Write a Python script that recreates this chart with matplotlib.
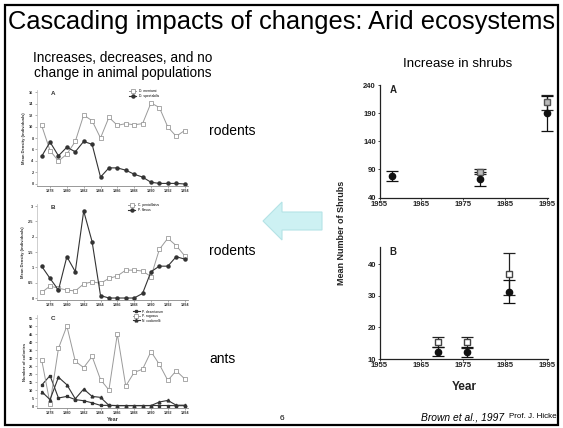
import matplotlib
matplotlib.use("Agg")
import matplotlib.pyplot as plt
from matplotlib.patches import Polygon, Rectangle

plt.rcParams['font.family'] = ['Liberation Sans', 'DejaVu Sans']

W, H = 563, 428

# Rodent censuses, 1977-1994
years = list(range(1977, 1995))
merriami = [10.2, 5.8, 4.0, 5.2, 7.4, 12.0, 11.0, 8.0, 11.6, 10.2, 10.5, 10.3, 10.5, 14.1, 13.3, 9.9, 8.3, 9.3]
spectabilis = [4.8, 7.3, 4.9, 6.4, 5.6, 7.4, 6.9, 1.2, 2.8, 2.8, 2.4, 1.7, 1.2, 0.3, 0.1, 0.1, 0.1, 0.0]
penicillatus = [0.18, 0.39, 0.32, 0.26, 0.23, 0.46, 0.53, 0.48, 0.64, 0.72, 0.91, 0.91, 0.88, 0.70, 1.59, 1.95, 1.71, 1.38]
flavus = [1.04, 0.64, 0.26, 1.35, 0.86, 2.84, 1.84, 0.08, 0.0, 0.0, 0.0, 0.0, 0.15, 0.86, 1.04, 1.04, 1.35, 1.27]

# Ant colonies
ants_open = [29, 1.5, 36, 50, 28, 24, 31, 16.5, 10, 45, 12.5, 21, 23, 34, 26, 16, 22, 17]
ants_square = [13, 19, 5, 6, 4, 3.3, 2, 0.4, 0.4, 0.2, 0.2, 0.2, 0.2, 0.3, 0.3, 0.3, 0.2, 0.2]
ants_tri = [9, 4, 18, 13.3, 4.5, 10.6, 6, 5.4, 0.4, 0.3, 0.3, 0.3, 0.3, 0.3, 2.5, 3.5, 0.5, 0.5]

# Shrub counts (mean +/- error)
shrubA_years = [1958, 1979, 1995]
shrubA_mean = [78, 73, 190]
shrubA_err = [9, 13, 31]
shrubA_open_years = [1979, 1995]
shrubA_open_mean = [86, 209]
shrubA_open_err = [4, 14]

shrubB_years = [1969, 1976, 1986]
shrubB_mean = [12.3, 12.3, 31.3]
shrubB_err = [1.5, 1.6, 3.7]
shrubB_open_mean = [15.3, 15.3, 36.8]
shrubB_open_err = [1.5, 1.8, 6.6]

left_xticks = list(range(1978, 1995, 2))
right_xticks = [1955, 1965, 1975, 1985, 1995]


def box(l, t, r, b):
    return [l / W, 1 - b / H, (r - l) / W, (b - t) / H]


def fx(x):
    return x / W


def fy(y):
    return 1 - y / H


fig = plt.figure(figsize=(W / 100, H / 100), dpi=100)

# slide frame
fig.patches.append(Rectangle((fx(5), fy(425)), fx(553), (420) / H, transform=fig.transFigure,
                             fill=False, edgecolor='black', linewidth=1.6))

fig.text(fx(8), fy(22), "Cascading impacts of changes: Arid ecosystems", fontsize=18.4,
         va='center', ha='left')
fig.text(fx(123), fy(65.5), "Increases, decreases, and no\nchange in animal populations",
         fontsize=9.8, ha='center', va='center', linespacing=1.1)
fig.text(fx(458), fy(64), "Increase in shrubs", fontsize=9.6, ha='center', va='center')

for y, s in [(131, "rodents"), (251, "rodents"), (359, "ants")]:
    fig.text(fx(209), fy(y), s, fontsize=10, ha='left', va='center')

fig.text(fx(282), fy(418), "6", fontsize=6, ha='center', va='center')
fig.text(fx(504), fy(418), "Brown et al., 1997", fontsize=7.4, style='italic', ha='right', va='center')
fig.text(fx(509), fy(417), "Prof. J. Hicke", fontsize=5.8, ha='left', va='center')

# arrow pointing from shrubs to animals
arrow = Polygon([(fx(263), fy(221)), (fx(282), fy(202)), (fx(282), fy(212)), (fx(322), fy(212)),
                 (fx(322), fy(230)), (fx(282), fy(230)), (fx(282), fy(240))],
                closed=True, transform=fig.transFigure, facecolor='#cdf1f3', edgecolor='#b5e3e6',
                linewidth=0.8)
fig.patches.append(arrow)

scan_c = '#333333'
gray_c = '#9a9a9a'


def left_panel(rect, ylim, yticks, ylabels, letter):
    ax = fig.add_axes(rect)
    ax.set_xlim(1976.45, 1994.4)
    ax.set_ylim(*ylim)
    for s in ['top', 'right']:
        ax.spines[s].set_visible(False)
    ax.spines['left'].set_color('#bbbbbb')
    ax.spines['bottom'].set_color('#888888')
    ax.spines['left'].set_linewidth(0.5)
    ax.spines['bottom'].set_linewidth(0.6)
    ax.set_xticks(left_xticks)
    ax.set_xticklabels([str(t) for t in left_xticks], fontsize=2.8, fontweight='bold', color=scan_c)
    ax.set_yticks(yticks)
    ax.set_yticklabels(ylabels, fontsize=2.8, fontweight='bold', color=scan_c)
    ax.tick_params(length=1.5, width=0.4, pad=1, colors='#777777', labelcolor=scan_c)
    ax.patch.set_alpha(0)
    ax.text(0.09, 0.99, letter, transform=ax.transAxes, fontsize=4.5, fontweight='bold',
            color=scan_c, va='top')
    return ax


# panel A: rodents
axA = left_panel(box(37, 90, 188, 186), (-0.35, 16.35), range(0, 17, 2),
                 [str(v) for v in range(0, 17, 2)], 'A')
axA.plot(years, merriami, '-s', color=gray_c, mfc='white', mec='#888888', ms=2.2, lw=0.7, mew=0.5,
         label='D. merriami')
axA.plot(years, spectabilis, '-o', color=scan_c, ms=2.2, lw=0.8, label='D. spectabilis')
axA.set_ylabel("Mean Density (individuals)", fontsize=3, fontweight='bold', color=scan_c, labelpad=2)
axA.legend(loc='upper right', bbox_to_anchor=(0.82, 1.03), fontsize=2.4, frameon=False,
           handlelength=2, labelspacing=0.2, borderpad=0.1)

# panel B: rodents
b_ticks = [0, 0.5, 1, 1.5, 2, 2.5, 3]
axB = left_panel(box(37, 204, 188, 300), (-0.065, 3.07), b_ticks,
                 ['0', '0.5', '1', '1.5', '2', '2.5', '3'], 'B')
axB.plot(years, penicillatus, '-s', color=gray_c, mfc='white', mec='#888888', ms=2.2, lw=0.7, mew=0.5,
         label='C. penicillatus')
axB.plot(years, flavus, '-o', color=scan_c, ms=2.2, lw=0.8, label='P. flavus')
axB.set_ylabel("Mean Density (individuals)", fontsize=3, fontweight='bold', color=scan_c, labelpad=2)
axB.legend(loc='upper right', bbox_to_anchor=(0.82, 1.03), fontsize=2.4, frameon=False,
           handlelength=2, labelspacing=0.2, borderpad=0.1)

# panel C: ants
axC = left_panel(box(37, 315, 188, 408), (-1.25, 56.9), range(0, 56, 5),
                 [str(v) for v in range(0, 56, 5)], 'C')
axC.plot(years, ants_square, '-s', color=scan_c, ms=2.0, lw=0.8, label='P. desertorum')
axC.plot(years, ants_open, '-s', color=gray_c, mfc='white', mec='#888888', ms=2.2, lw=0.7, mew=0.5,
         label='P. rugosus')
axC.plot(years, ants_tri, '-^', color=scan_c, ms=2.0, lw=0.8, label='N. cockerelli')
axC.set_ylabel("Number of colonies", fontsize=3, fontweight='bold', color=scan_c, labelpad=2)
axC.set_xlabel("Year", fontsize=4, fontweight='bold', color=scan_c, labelpad=1)
axC.legend(loc='upper right', bbox_to_anchor=(0.85, 1.08), fontsize=2.4, frameon=False,
           handlelength=2, labelspacing=0.15, borderpad=0.1)


def right_panel(rect, ylim, yticks, letter):
    ax = fig.add_axes(rect)
    ax.set_xlim(1955, 1995.3)
    ax.set_ylim(*ylim)
    for s in ['top', 'right']:
        ax.spines[s].set_visible(False)
    for s in ['left', 'bottom']:
        ax.spines[s].set_linewidth(0.9)
        ax.spines[s].set_color('#222222')
    ax.set_xticks(right_xticks)
    ax.set_xticklabels([str(t) for t in right_xticks], fontsize=5.5, fontweight='bold', color='#222222')
    ax.set_yticks(yticks)
    ax.set_yticklabels([str(v) for v in yticks], fontsize=5.5, fontweight='bold', color='#222222')
    ax.tick_params(length=1.5, width=0.5, pad=1)
    ax.text(0.06, 1.0, letter, transform=ax.transAxes, fontsize=7, fontweight='bold',
            color='#222222', va='top')
    ax.patch.set_alpha(0)
    return ax


def no_clip(container):
    for artist in container.lines[:1] + tuple(container.lines[1]) + tuple(container.lines[2]):
        if artist is not None:
            artist.set_clip_on(False)


axR1 = right_panel(box(379.5, 85, 548, 197.5), (40, 240), [40, 90, 140, 190, 240], 'A')
eb = axR1.errorbar(shrubA_open_years, shrubA_open_mean, yerr=shrubA_open_err, fmt='s', color='#222222',
                   mfc='#bbbbbb', mec='#555555', ms=4, capsize=4.3, elinewidth=0.9, capthick=0.9)
no_clip(eb)
eb = axR1.errorbar(shrubA_years, shrubA_mean, yerr=shrubA_err, fmt='o', color='#111111',
                   ms=4.5, capsize=4.3, elinewidth=0.9, capthick=0.9)
no_clip(eb)

axR2 = right_panel(box(379.5, 247, 548, 359), (10, 45.4), [10, 20, 30, 40], 'B')
eb = axR2.errorbar(shrubB_years, shrubB_open_mean, yerr=shrubB_open_err, fmt='s', color='#222222',
                   mfc='white', mec='#444444', ms=4, capsize=4.3, elinewidth=0.9, capthick=0.9)
no_clip(eb)
eb = axR2.errorbar(shrubB_years, shrubB_mean, yerr=shrubB_err, fmt='o', color='#111111',
                   ms=4.5, capsize=4.3, elinewidth=0.9, capthick=0.9)
no_clip(eb)
axR2.set_xlabel("Year", fontsize=8.5, fontweight='bold', color='#222222', labelpad=8)

fig.text(fx(342), fy(233), "Mean Number of Shrubs", rotation=90, fontsize=6.5, fontweight='bold',
         color='#222222', ha='center', va='center')

fig.savefig("out.png", dpi=100)
